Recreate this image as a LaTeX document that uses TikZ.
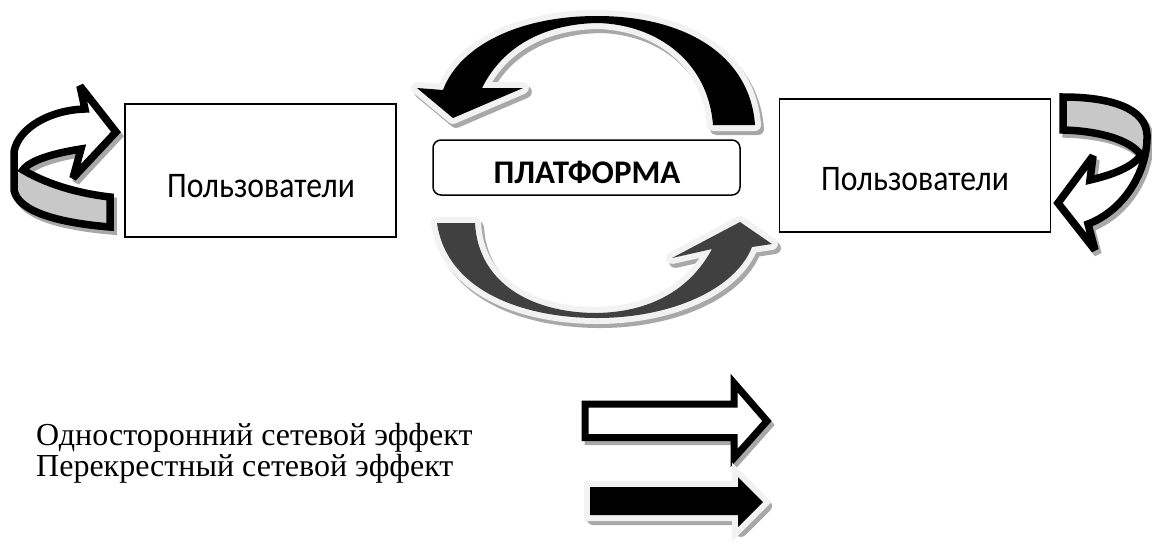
\documentclass[tikz,border=0pt]{standalone}
\usepackage{fontspec}
\setmainfont{Liberation Serif}
\newfontfamily\calib{Carlito}
\definecolor{bandgrey}{HTML}{C8C8C8}
\definecolor{darkarc}{HTML}{404040}
\definecolor{lightrim}{HTML}{F2F2F2}
\definecolor{shadowgrey}{HTML}{A8A8A8}
\begin{document}
\begin{tikzpicture}[x=1pt,y=-1pt,
  userbox/.style={draw=black,line width=1.5pt,fill=white,inner sep=0pt,minimum width=271pt,minimum height=133pt},
  platbox/.style={draw=black,line width=1.5pt,fill=white,rounded corners=8pt,inner sep=0pt,minimum width=307pt,minimum height=55pt},
  usertext/.style={font=\calib\fontsize{36}{42}\selectfont,anchor=base,inner sep=0pt},
  plattext/.style={font=\calib\bfseries\fontsize{33}{40}\selectfont,anchor=base,inner sep=0pt},
  legtext/.style={font=\fontsize{32}{38}\selectfont,anchor=base west,inner sep=0pt},
  rim/.style={draw=lightrim,line width=12pt,line join=round},
  shade/.style={fill=shadowgrey,draw=shadowgrey,line width=12pt,line join=round},
  ribbon/.style={draw=black,line width=7.5pt,line join=miter,miter limit=3}]
\useasboundingbox (0,0) rectangle (1152,550);

% path definitions
\def\toparc{(482,88) .. controls (505,42) and (550,24) .. (597,23) .. controls (655,24) and (708,60) .. (713,125) -- (755,125) .. controls (750,55) and (685,16) .. (597,16) .. controls (520,16) and (460,45) .. (443,90) -- (417,88) -- (453,118) -- (523,88) -- cycle}
\def\botarc{(475,223) -- (437,223) .. controls (447,292) and (525,318) .. (597,318) .. controls (670,318) and (735,290) .. (752,247) -- (772,244) -- (740,222) -- (672,258) -- (712,249) .. controls (690,290) and (650,312) .. (597,313) .. controls (530,313) and (478,282) .. (475,223) -- cycle}
\def\leftcirc{(110,227) .. controls (60,223) and (18,212) .. (14,190) -- (14,152) .. controls (18,128) and (50,110) .. (85,109) -- (80,86) -- (116,132) -- (73,178) -- (81,149) .. controls (55,153) and (30,160) .. (23,170) .. controls (45,183) and (75,193) .. (110,197) -- cycle}
\def\leftgrey{(23,170) .. controls (45,183) and (75,193) .. (110,197) -- (110,227) .. controls (60,223) and (18,212) .. (14,190) -- (14,176) -- cycle}
\def\rightcirc{(1063,97) .. controls (1110,97) and (1146,108) .. (1147,135) .. controls (1148,170) and (1125,210) .. (1088,224) -- (1095,250) -- (1058,203) -- (1093,156) -- (1090,180) .. controls (1112,175) and (1133,167) .. (1141,155) .. controls (1130,140) and (1100,131) .. (1063,130) -- cycle}
\def\rightgrey{(1063,97) .. controls (1110,97) and (1146,108) .. (1147,135) -- (1145,150) -- (1141,155) .. controls (1130,140) and (1100,131) .. (1063,130) -- cycle}

% top black arc arrow
\begin{scope}[shift={(3,4)}]
  \path[shade] \toparc;
\end{scope}
\path[rim] \toparc;
\fill[black] \toparc;

% bottom dark arc arrow
\begin{scope}[shift={(3,4)}]
  \path[shade] \botarc;
\end{scope}
\path[rim] \botarc;
\fill[darkarc] \botarc;

% left circular arrow
\begin{scope}[shift={(3,4)}]
  \fill[shadowgrey] \leftcirc;
  \draw[shadowgrey,line width=7.5pt,line join=miter,miter limit=3] \leftcirc;
\end{scope}
\fill[white] \leftcirc;
\fill[bandgrey] \leftgrey;
\path[ribbon] \leftcirc;

% right circular arrow
\begin{scope}[shift={(3,4)}]
  \fill[shadowgrey] \rightcirc;
  \draw[shadowgrey,line width=7.5pt,line join=miter,miter limit=3] \rightcirc;
\end{scope}
\fill[white] \rightcirc;
\fill[bandgrey] \rightgrey;
\path[ribbon] \rightcirc;

% boxes
\node[userbox] (uleft) at (260.5,170.5) {};
\node[usertext] (tleft) at (261,197) {\scalebox{0.88}[1]{Пользователи}};
\node[userbox] (uright) at (915,165.5) {};
\node[usertext] (tright) at (915,190) {\scalebox{0.88}[1]{Пользователи}};
\node[platbox] (plat) at (586.5,167.5) {};
\node[plattext] (tplat) at (587,183.5) {ПЛАТФОРМА};

% legend arrows
\begin{scope}[shift={(3,4)}]
  \draw[shadowgrey,line width=7pt,line join=miter] (585,404) -- (734,404) -- (734,383) -- (767,421) -- (734,458) -- (734,437.5) -- (585,437.5) -- cycle;
\end{scope}
\draw[black,line width=7pt,line join=miter,fill=white] (585,404) -- (734,404) -- (734,383) -- (767,421) -- (734,458) -- (734,437.5) -- (585,437.5) -- cycle;

\begin{scope}[shift={(3,4)}]
  \path[shade] (590,487) -- (738,487) -- (738,477) -- (763,502) -- (738,527) -- (738,515) -- (590,515) -- cycle;
\end{scope}
\path[rim,line join=miter] (590,487) -- (738,487) -- (738,477) -- (763,502) -- (738,527) -- (738,515) -- (590,515) -- cycle;
\fill[black] (590,487) -- (738,487) -- (738,477) -- (763,502) -- (738,527) -- (738,515) -- (590,515) -- cycle;

% legend texts
\node[legtext] (l1) at (36,445) {Односторонний сетевой эффект};
\node[legtext] (l2) at (36,476) {Перекрестный сетевой эффект};
\end{tikzpicture}
\end{document}
